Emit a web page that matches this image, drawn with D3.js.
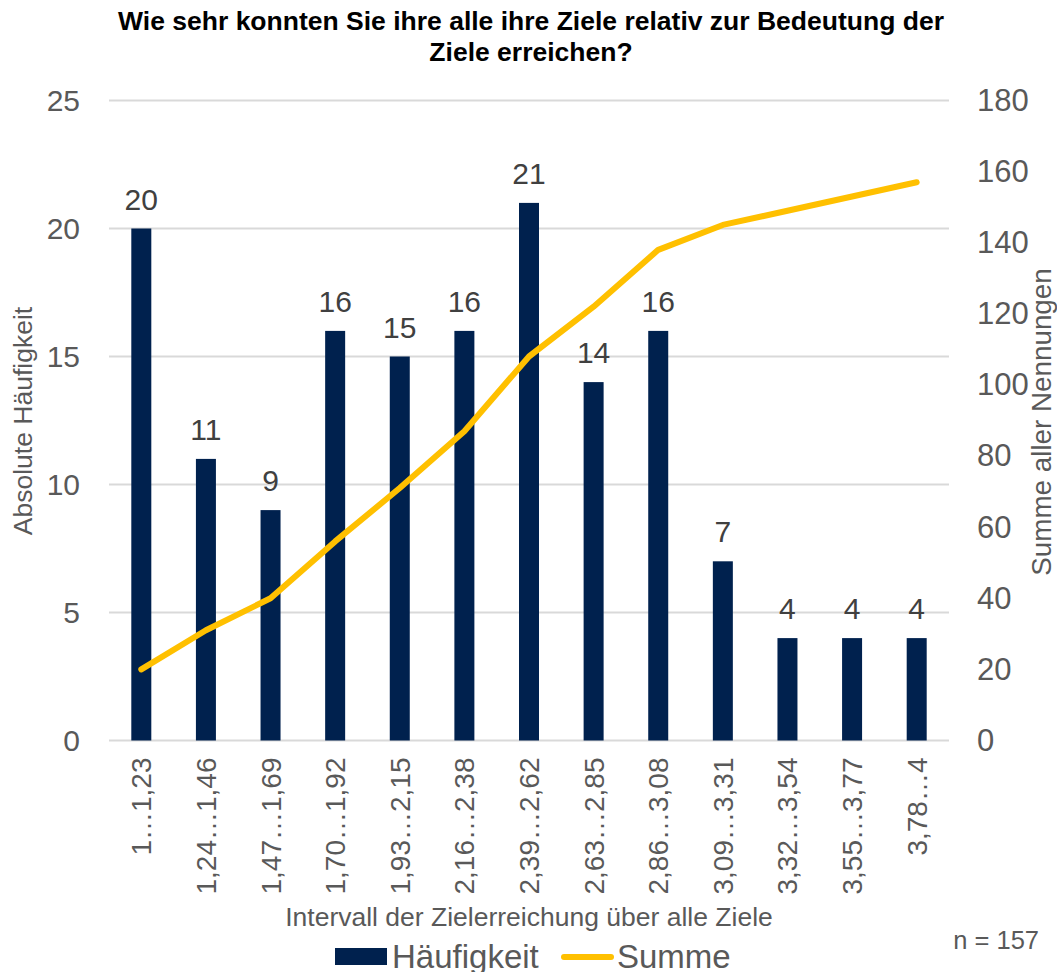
<!DOCTYPE html>
<html>
<head>
<meta charset="utf-8">
<script src="https://cdn.jsdelivr.net/npm/d3@7"></script>
<style>
  html, body { margin: 0; padding: 0; background: #fff; }
  svg { display: block; font-family: "Liberation Sans", Arial, sans-serif; }
</style>
</head>
<body>
<svg id="chart" width="1057" height="972"></svg>
<script>
// Intervals of goal attainment (x categories)
const categories = ["1…1,23", "1,24…1,46", "1,47…1,69", "1,70…1,92", "1,93…2,15", "2,16…2,38",
  "2,39…2,62", "2,63…2,85", "2,86…3,08", "3,09…3,31", "3,32…3,54", "3,55…3,77", "3,78…4"];
// Absolute frequency per interval
const haeufigkeit = [20, 11, 9, 16, 15, 16, 21, 14, 16, 7, 4, 4, 4];
// Running total of all mentions
const summe = [20, 31, 40, 56, 71, 87, 108, 122, 138, 145, 149, 153, 157];
// Axis ticks
const leftTicks = [0, 5, 10, 15, 20, 25];
const rightTicks = [0, 20, 40, 60, 80, 100, 120, 140, 160, 180];

const svg = d3.select("#chart");
const textColor = "#595959";
const barColor = "#00214E";
const lineColor = "#FFC000";
const gridColor = "#D9D9D9";

const plot = { left: 109, right: 949, top: 100.5, bottom: 740.5 };

const x = d3.scaleBand().domain(categories).range([plot.left, plot.right]).paddingInner(0).paddingOuter(0);
const yL = d3.scaleLinear().domain([0, 25]).range([plot.bottom, plot.top]);
const yR = d3.scaleLinear().domain([0, 180]).range([plot.bottom, plot.top]);

// Title
const title = svg.append("text")
  .attr("text-anchor", "middle")
  .attr("font-weight", "bold").attr("font-size", 26.5).attr("fill", "#000");
title.append("tspan").attr("x", 531).attr("y", 30).text("Wie sehr konnten Sie ihre alle ihre Ziele relativ zur Bedeutung der");
title.append("tspan").attr("x", 531).attr("y", 61).text("Ziele erreichen?");

// Gridlines
svg.append("g").selectAll("line").data(leftTicks).join("line")
  .attr("x1", plot.left).attr("x2", plot.right)
  .attr("y1", d => yL(d)).attr("y2", d => yL(d))
  .attr("stroke", gridColor).attr("stroke-width", 2);

// Left axis
const leftAxis = svg.append("g").attr("transform", `translate(${plot.left - 29},0)`)
  .call(d3.axisLeft(yL).tickValues(leftTicks).tickSize(0).tickPadding(0));
leftAxis.select(".domain").remove();
leftAxis.selectAll("text").attr("font-size", 30).attr("fill", textColor)
  .attr("font-family", "Liberation Sans, Arial, sans-serif");

// Right axis
const rightAxis = svg.append("g").attr("transform", `translate(${plot.right + 28},0)`)
  .call(d3.axisRight(yR).tickValues(rightTicks).tickSize(0).tickPadding(0));
rightAxis.select(".domain").remove();
rightAxis.selectAll("text").attr("font-size", 31).attr("fill", textColor)
  .attr("font-family", "Liberation Sans, Arial, sans-serif");

// Bars
const barW = 20;
svg.append("g").selectAll("rect").data(haeufigkeit).join("rect")
  .attr("x", (d, i) => x(categories[i]) + x.bandwidth() / 2 - barW / 2)
  .attr("y", d => yL(d))
  .attr("width", barW)
  .attr("height", d => yL(0) - yL(d))
  .attr("fill", barColor);

// Bar value labels
svg.append("g").selectAll("text").data(haeufigkeit).join("text")
  .attr("x", (d, i) => x(categories[i]) + x.bandwidth() / 2)
  .attr("y", d => yL(d) - 19)
  .attr("text-anchor", "middle")
  .attr("font-size", 30).attr("fill", "#404040")
  .text(d => d);

// Cumulative line
const line = d3.line()
  .x((d, i) => x(categories[i]) + x.bandwidth() / 2)
  .y(d => yR(d));
svg.append("path").datum(summe)
  .attr("d", line)
  .attr("fill", "none").attr("stroke", lineColor)
  .attr("stroke-width", 6).attr("stroke-linejoin", "round").attr("stroke-linecap", "round");

// X tick labels (rotated)
const xAxis = svg.append("g").attr("transform", `translate(0,${plot.bottom})`)
  .call(d3.axisBottom(x).tickSize(0).tickPadding(0));
xAxis.select(".domain").remove();
xAxis.selectAll("text")
  .attr("font-size", 28).attr("fill", textColor)
  .attr("font-family", "Liberation Sans, Arial, sans-serif")
  .attr("text-anchor", "end")
  .attr("dy", null).attr("y", 0)
  .attr("transform", "translate(10,17) rotate(-90)");

// Axis titles
svg.append("text")
  .attr("transform", "translate(32,421) rotate(-90)")
  .attr("text-anchor", "middle").attr("font-size", 26.5).attr("fill", textColor)
  .text("Absolute Häufigkeit");
svg.append("text")
  .attr("transform", "translate(1051,422) rotate(-90)")
  .attr("text-anchor", "middle").attr("font-size", 27.8).attr("fill", textColor)
  .text("Summe aller Nennungen");
svg.append("text")
  .attr("x", 529).attr("y", 926)
  .attr("text-anchor", "middle").attr("font-size", 26.5).attr("fill", textColor)
  .text("Intervall der Zielerreichung über alle Ziele");

// Sample size
svg.append("text")
  .attr("x", 1039).attr("y", 949)
  .attr("text-anchor", "end").attr("font-size", 25.5).attr("fill", textColor)
  .text("n = 157");

// Legend
const legend = svg.append("g");
legend.append("rect").attr("x", 335).attr("y", 948).attr("width", 52).attr("height", 17).attr("fill", barColor);
legend.append("text").attr("x", 392).attr("y", 968).attr("font-size", 33).attr("fill", textColor).text("Häufigkeit");
legend.append("line").attr("x1", 564).attr("x2", 611).attr("y1", 957).attr("y2", 957)
  .attr("stroke", lineColor).attr("stroke-width", 6).attr("stroke-linecap", "round");
legend.append("text").attr("x", 617).attr("y", 968).attr("font-size", 33).attr("fill", textColor).text("Summe");
</script>
</body>
</html>
